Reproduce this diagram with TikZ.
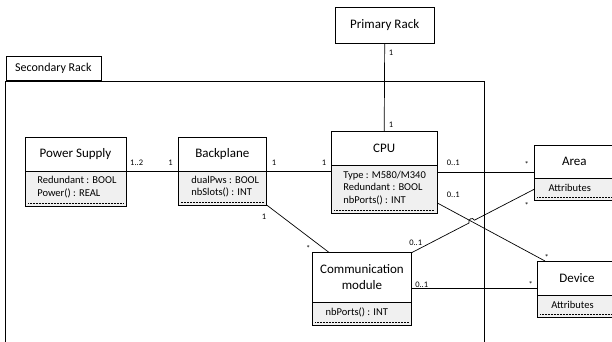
\documentclass[tikz,border=0pt]{standalone}
\usepackage{fontspec}
\setmainfont{Carlito}
\usetikzlibrary{positioning,calc,intersections}

\begin{document}
\begin{tikzpicture}
  [x=1pt, y=-1pt, line width=0.7pt,
   classtitle/.style={draw, fill=white, inner sep=0pt, outer sep=0pt, align=center,
     line width=0.8pt, font=\fontsize{13}{15.7}\selectfont},
   classattr/.style={draw, fill=black!6, inner sep=0pt, outer sep=0pt, line width=0.8pt,
     path picture={\draw[line width=0.5pt, densely dotted]
       ([xshift=3pt,yshift=3pt]path picture bounding box.south west) --
       ([xshift=-3pt,yshift=3pt]path picture bounding box.south east);}},
   attrtext/.style={inner sep=0pt, align=left, yshift=1.5pt,
     font=\fontsize{10.5}{12.7}\selectfont},
   mult/.style={inner sep=0pt, anchor=base, font=\fontsize{8.5}{10}\selectfont}]

  \useasboundingbox (0,0) rectangle (612,342);
  \clip (0,0) rectangle (612,342);

  % secondary rack frame
  \node[draw, minimum width=95pt, minimum height=24pt, inner sep=0pt,
        anchor=south west, font=\fontsize{12}{14}\selectfont] (tab) at (5.5,81) {Secondary Rack};
  \coordinate (rackne) at (484.3,81);
  \draw (tab.south west) -- ++(0,270);
  \draw (tab.south west) -- (rackne) -- ++(0,270);

  % classes
  \node[classtitle, minimum width=99.3pt, minimum height=36.4pt] (prim) at (384.7,25.5) {Primary Rack};

  \node[classtitle, minimum width=101pt, minimum height=34pt] (pst) at (75.5,154) {Power Supply};
  \node[classattr, minimum width=101pt, minimum height=35pt, below=0pt of pst] (psa) {};
  \node[attrtext, right=12pt of psa.west] (psat) {Redundant : BOOL\\Power() : REAL};

  \node[classtitle, minimum width=88.7pt, minimum height=34pt] (bpt) at (222.3,154) {Backplane};
  \node[classattr, minimum width=88.7pt, minimum height=34pt, below=0pt of bpt] (bpa) {};
  \node[attrtext, right=13pt of bpa.west] (bpat) {dualPws : BOOL\\nbSlots() : INT};

  \node[classtitle, minimum width=106.3pt, minimum height=34pt] (cput) at (384.2,148.7) {CPU};
  \node[classattr, minimum width=106.3pt, minimum height=47.6pt, below=0pt of cput] (cpua) {};
  \node[attrtext, right=12pt of cpua.west] (cpuat) {Type : M580/M340\\Redundant : BOOL\\nbPorts() : INT};

  \node[classtitle, minimum width=80pt, minimum height=33.5pt] (areat) at (574.3,161.7) {Area};
  \node[classattr, minimum width=80pt, minimum height=21.5pt, below=0pt of areat] (areaa) {};
  \node[attrtext, right=14pt of areaa.west] (areaat) {Attributes};

  \node[classtitle, minimum width=99.4pt, minimum height=49.3pt] (commt) at (362,277.3) {Communication\\module};
  \node[classattr, minimum width=99.4pt, minimum height=23pt, below=0pt of commt] (comma) {};
  \node[attrtext, right=13pt of comma.west] (commat) {nbPorts() : INT};

  \node[classtitle, minimum width=80pt, minimum height=34pt] (devt) at (577,278) {Device};
  \node[classattr, minimum width=80pt, minimum height=22.3pt, below=0pt of devt] (deva) {};
  \node[attrtext, right=14pt of deva.west] (devat) {Attributes};

  % associations
  \draw (prim.south) -- (cput.north);
  \draw (pst.south east) -- (bpt.south west);
  \draw (bpt.south east) -- (bpt.south east -| cpua.west);
  \draw ([yshift=-7pt]cput.south east) coordinate (cpuout) -- (cpuout -| areat.west);
  \draw[name path=cpudev] ([yshift=-13.5pt]cpua.east) -- ([xshift=8pt]devt.north west);
  \draw (bpa.south east) -- ([xshift=17pt]commt.north west);
  \path[name path=commarea] (commt.north east) -- (areaa.west);
  \path[name intersections={of=cpudev and commarea, by=hop}];
  \draw (commt.north east) -- ($(hop)!3pt!(commt.north east)$)
    .. controls +(-1.8,-3.6) and +(-1.8,-3.6) .. ($(hop)!3pt!(areaa.west)$) -- (areaa.west);
  \draw ([yshift=-10pt]devt.west) coordinate (devin) -- (devin -| commt.east);

  % multiplicities
  \node[mult] (m1) at ([xshift=6.3pt,yshift=-12.3pt]prim.south) {1};
  \node[mult] (m2) at ([xshift=6.8pt,yshift=4pt]cput.north) {1};
  \node[mult] (m3) at ([xshift=10.7pt,yshift=5.6pt]pst.south east) {1..2};
  \node[mult] (m4) at ([xshift=-7.3pt,yshift=5.6pt]bpt.south west) {1};
  \node[mult] (m5) at ([xshift=7.3pt,yshift=5.6pt]bpt.south east) {1};
  \node[mult] (m6) at ([xshift=-7pt,yshift=0.3pt]cput.south west) {1};
  \node[mult] (m7) at ([xshift=16pt,yshift=0.3pt]cput.south east) {0..1};
  \node[mult] (m8) at ([xshift=-7.6pt,yshift=10.5pt]areat.south west) {*};
  \node[mult] (m9) at ([xshift=16pt,yshift=-8.2pt]cpua.east) {0..1};
  \node[mult] (m10) at ([xshift=-7.6pt,yshift=-9pt]areaa.south west) {*};
  \node[mult] (m11) at ([xshift=-2.7pt,yshift=-14.4pt]bpa.south east) {1};
  \node[mult] (m12) at ([xshift=-4pt,yshift=1pt]commt.north west) {*};
  \node[mult] (m13) at ([xshift=4pt,yshift=6.7pt]commt.north east) {0..1};
  \node[mult] (m14) at ([xshift=9.7pt,yshift=0.3pt]devt.north west) {*};
  \node[mult] (m15) at ([xshift=10pt,yshift=-10.4pt]commt.east) {0..1};
  \node[mult] (m16) at ([xshift=-6.3pt,yshift=-9.3pt]devt.west) {*};
\end{tikzpicture}
\end{document}
